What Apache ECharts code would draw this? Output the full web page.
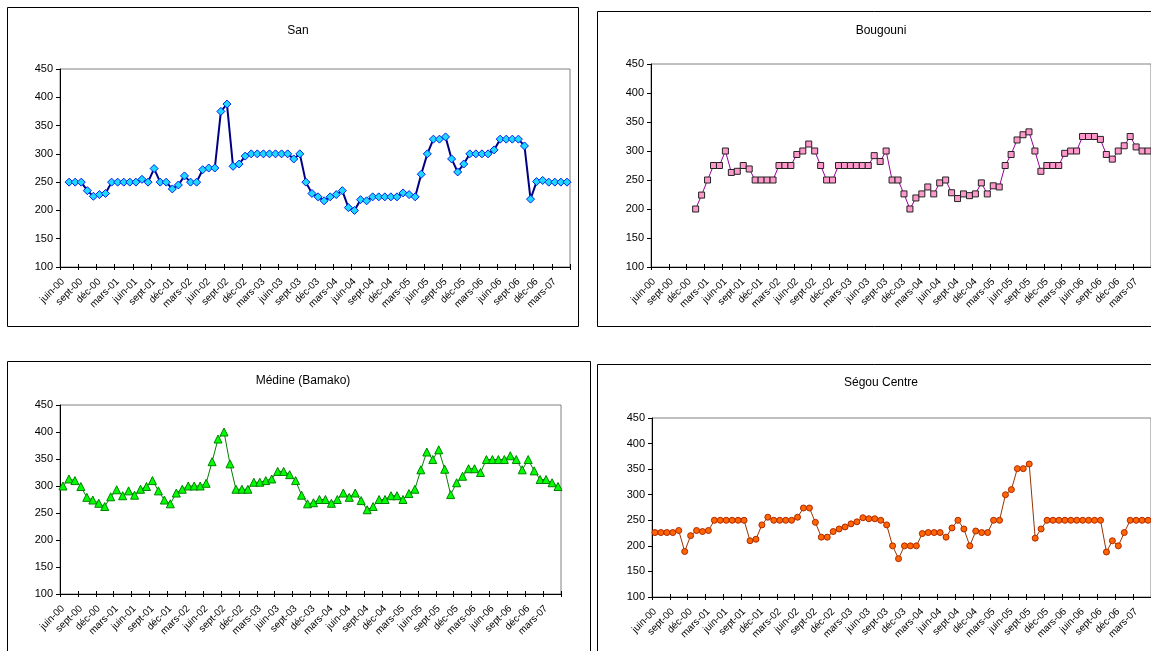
<!DOCTYPE html>
<html>
<head>
<meta charset="utf-8">
<script src="https://cdn.jsdelivr.net/npm/echarts@6/dist/echarts.min.js"></script>
<style>
  html, body { margin: 0; padding: 0; background: #fff; }
  #chart { width: 1151px; height: 651px; }
</style>
</head>
<body>
<div id="chart"></div>
<script>
// Monthly categories, June 2000 to May 2007
const months = [
  'juin-00','juil-00','août-00','sept-00','oct-00','nov-00','déc-00',
  'janv-01','févr-01','mars-01','avr-01','mai-01','juin-01','juil-01','août-01','sept-01','oct-01','nov-01','déc-01',
  'janv-02','févr-02','mars-02','avr-02','mai-02','juin-02','juil-02','août-02','sept-02','oct-02','nov-02','déc-02',
  'janv-03','févr-03','mars-03','avr-03','mai-03','juin-03','juil-03','août-03','sept-03','oct-03','nov-03','déc-03',
  'janv-04','févr-04','mars-04','avr-04','mai-04','juin-04','juil-04','août-04','sept-04','oct-04','nov-04','déc-04',
  'janv-05','févr-05','mars-05','avr-05','mai-05','juin-05','juil-05','août-05','sept-05','oct-05','nov-05','déc-05',
  'janv-06','févr-06','mars-06','avr-06','mai-06','juin-06','juil-06','août-06','sept-06','oct-06','nov-06','déc-06',
  'janv-07','févr-07','mars-07','avr-07','mai-07'
];

// Value scale shared by all four panels
const yMin = 100, yMax = 450, yStep = 50;

// Prices per market
const san = [
  null, 250, 250, 250, 235, 225, 228, 230, 250, 250, 250, 250, 250, 255, 250, 274, 250, 250, 238, 245,
  261, 250, 250, 272, 275, 275, 375, 388, 278, 282, 296, 300, 300, 300, 300, 300, 300, 300, 291, 300,
  250, 230, 224, 217, 224, 228, 235, 205, 200, 219, 217, 224, 224, 224, 224, 224, 231, 228, 224, 264,
  300, 326, 326, 330, 291, 268, 282, 300, 300, 300, 300, 307, 326, 326, 326, 326, 314, 220, 251, 253,
  250, 250, 250, 250
];
const bougouni = [
  null, null, null, null, null, null, null, 200, 224, 250, 275, 275, 300, 263, 265, 275, 269, 250, 250, 250,
  250, 275, 275, 275, 294, 300, 312, 300, 275, 250, 250, 275, 275, 275, 275, 275, 275, 292, 282, 300,
  250, 250, 226, 200, 219, 226, 238, 226, 245, 250, 228, 218, 226, 223, 226, 245, 226, 240, 238, 275,
  294, 319, 328, 333, 300, 265, 275, 275, 275, 296, 300, 300, 325, 325, 325, 320, 294, 286, 300, 309,
  325, 307, 300, 300
];
const medine = [
  300, 313, 310, 299, 279, 274, 268, 262, 280, 293, 282, 291, 283, 294, 299, 310, 291, 274, 267, 287,
  294, 300, 300, 300, 305, 345, 387, 400, 341, 294, 294, 294, 307, 307, 310, 313, 327, 327, 321, 310,
  283, 267, 269, 275, 275, 268, 275, 287, 279, 287, 273, 256, 262, 275, 275, 282, 282, 275, 286, 294,
  330, 363, 349, 367, 331, 284, 306, 318, 332, 332, 325, 349, 349, 349, 349, 356, 349, 330, 349, 328,
  312, 312, 306, 299
];
const segou = [
  226, 226, 226, 226, 230, 189, 220, 230, 228, 230, 250, 250, 250, 250, 250, 250, 210, 213, 241, 256,
  250, 250, 250, 250, 256, 274, 274, 246, 217, 217, 228, 233, 237, 243, 247, 255, 253, 253, 250, 241,
  200, 175, 200, 200, 200, 224, 226, 226, 226, 217, 235, 250, 233, 200, 229, 226, 226, 250, 250, 300,
  310, 351, 351, 360, 215, 233, 250, 250, 250, 250, 250, 250, 250, 250, 250, 250, 188, 210, 200, 226,
  250, 250, 250, 250
];

const panels = [
  { title: 'San', data: san,
    frame: [7.5, 7.5, 571, 319], grid: { left: 60, top: 69, width: 510, height: 198 }, titleAt: [293, 20],
    line: { color: '#000080', width: 2 },
    symbol: 'diamond', symbolSize: 8, fill: '#1ED8FF', border: '#0022EE' },
  { title: 'Bougouni', data: bougouni,
    frame: [597.5, 11.5, 600, 315], grid: { left: 651, top: 64, width: 505, height: 203 }, titleAt: [876, 20],
    line: { color: '#990099', width: 1 },
    symbol: 'rect', symbolSize: 6, fill: '#FF99CC', border: '#222222' },
  { title: 'Médine (Bamako)', data: medine,
    frame: [7.5, 361.5, 583, 320], grid: { left: 60, top: 405, width: 501, height: 189 }, titleAt: [298, 370],
    line: { color: '#008000', width: 1 },
    symbol: 'triangle', symbolSize: 8, fill: '#00FF00', border: '#008000' },
  { title: 'Ségou Centre', data: segou,
    frame: [597.5, 364.5, 600, 320], grid: { left: 652, top: 418, width: 504, height: 179 }, titleAt: [876, 372],
    line: { color: '#993300', width: 1 },
    symbol: 'circle', symbolSize: 6, fill: '#FF6600', border: '#B02800' }
];

const font = 'Liberation Sans, Arial, sans-serif';
const everyThird = (i) => i % 3 === 0;

const option = {
  animation: false,
  backgroundColor: '#ffffff',
  title: [], grid: [], xAxis: [], yAxis: [], series: [],
  graphic: []
};

panels.forEach((p, k) => {
  option.graphic.push({
    type: 'rect', silent: true, z: -1,
    shape: { x: p.frame[0], y: p.frame[1], width: p.frame[2], height: p.frame[3] },
    style: { fill: '#ffffff', stroke: '#000000', lineWidth: 1 }
  });
  option.title.push({
    text: p.title, left: p.titleAt[0], top: p.titleAt[1], textAlign: 'center',
    textStyle: { fontFamily: font, fontSize: 12, fontWeight: 'normal', color: '#000' }
  });
  option.grid.push(Object.assign({
    show: true, borderColor: '#808080', borderWidth: 1, backgroundColor: 'transparent'
  }, p.grid));

  // main category axis: line, labels, outer half of the tick marks
  option.xAxis.push({
    type: 'category', gridIndex: k, data: months, boundaryGap: true, position: 'bottom',
    axisLine: { lineStyle: { color: '#000', width: 1 } },
    axisTick: { show: true, interval: everyThird, length: 3, lineStyle: { color: '#000' } },
    axisLabel: { interval: everyThird, rotate: 45, margin: 13, fontFamily: font, fontSize: 10, color: '#000' },
    splitLine: { show: false }
  });
  // companion axis: inner half of the tick marks, so they cross the axis line
  option.xAxis.push({
    type: 'category', gridIndex: k, data: months, boundaryGap: true, position: 'bottom',
    axisLine: { show: false },
    axisTick: { show: true, inside: true, interval: everyThird, length: 3, lineStyle: { color: '#000' } },
    axisLabel: { show: false },
    splitLine: { show: false }
  });
  option.yAxis.push({
    type: 'value', gridIndex: k, min: yMin, max: yMax, interval: yStep,
    axisLine: { show: true, lineStyle: { color: '#000', width: 1 } },
    axisTick: { show: true, length: 4, lineStyle: { color: '#000' } },
    axisLabel: { margin: 7, fontFamily: font, fontSize: 11, color: '#000' },
    splitLine: { show: false }
  });
  option.series.push({
    type: 'line', name: p.title, xAxisIndex: 2 * k, yAxisIndex: k,
    data: p.data,
    symbol: p.symbol, symbolSize: p.symbolSize, showSymbol: true, showAllSymbol: true,
    lineStyle: { color: p.line.color, width: p.line.width },
    itemStyle: { color: p.fill, borderColor: p.border, borderWidth: 1 },
    emphasis: { disabled: true }
  });
});

const chart = echarts.init(document.getElementById('chart'), null, { renderer: 'canvas' });
chart.setOption(option);
</script>
</body>
</html>
